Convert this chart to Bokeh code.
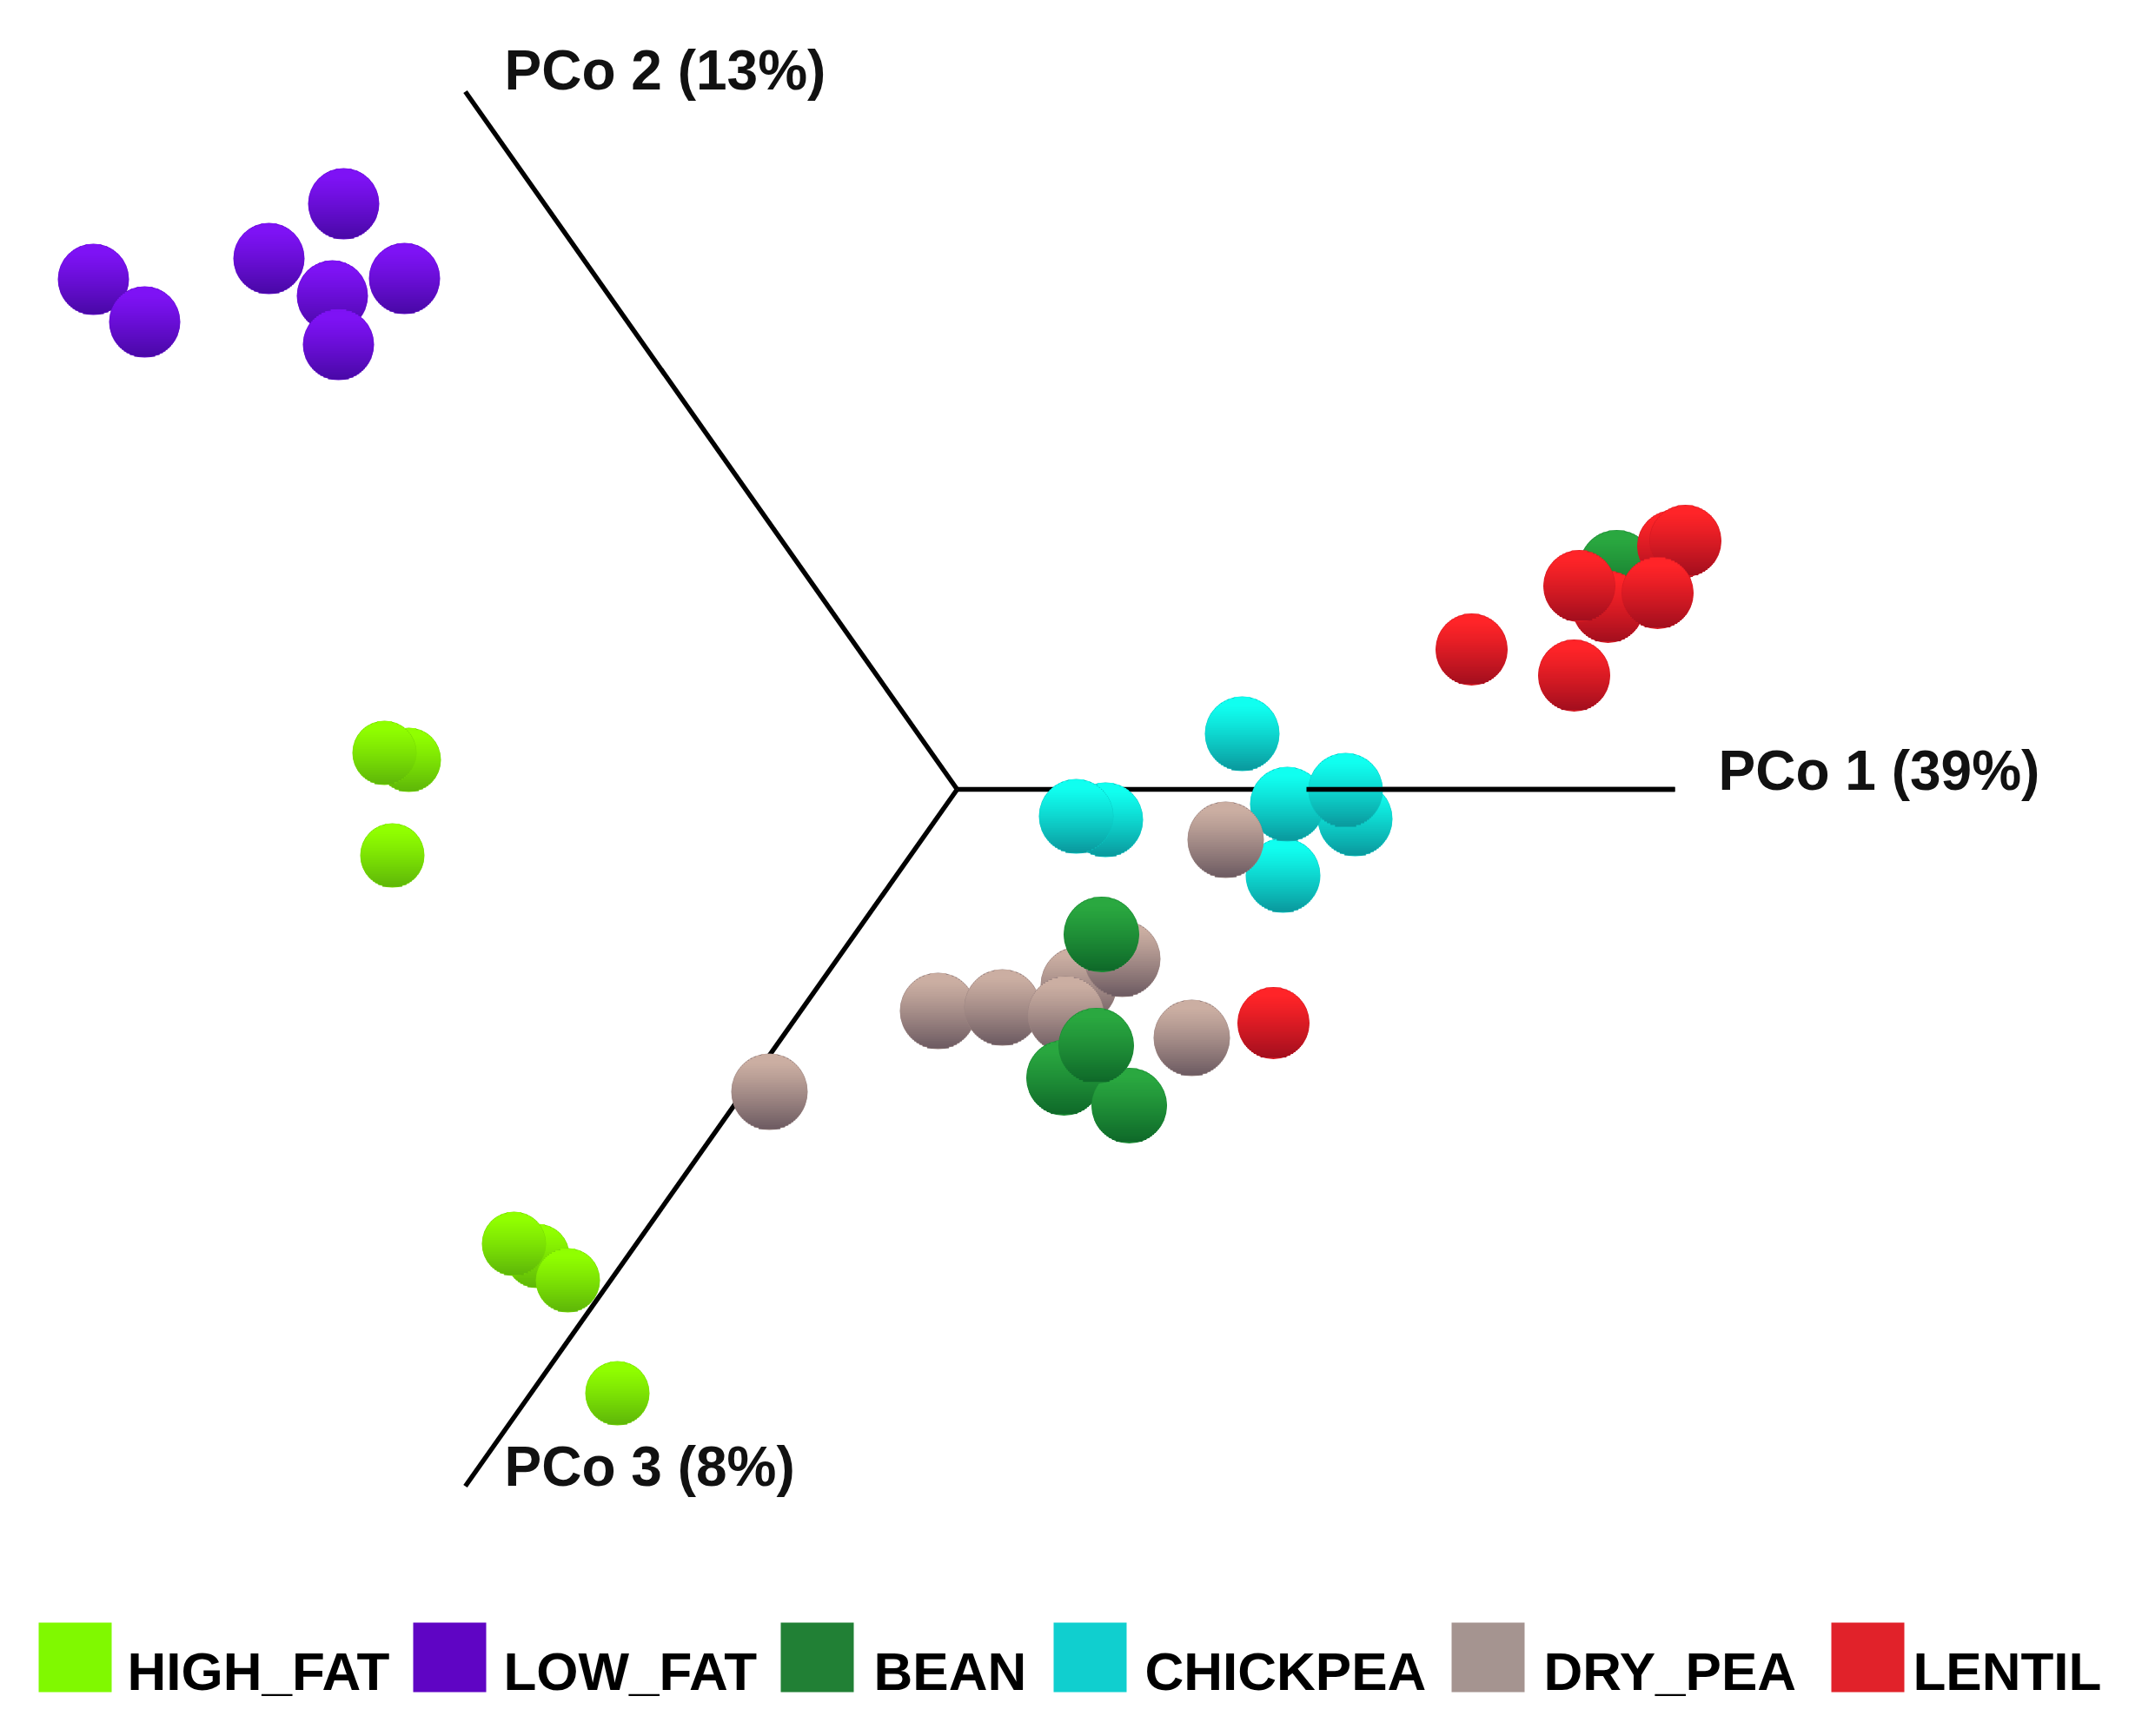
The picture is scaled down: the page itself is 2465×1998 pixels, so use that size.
from bokeh.plotting import figure
from bokeh.models import Range1d
from bokeh.core.properties import value
from bokeh.embed import file_html
from bokeh.resources import INLINE
import math

# ---------- data (ordination scores, listed back-to-front) ----------
chickpea_x = [1559, 1476, 1272, 1238, 1429, 1481, 1548]
chickpea_y = [942, 1007, 943, 939, 844, 925, 909]
dry_pea_x = [1241, 1291, 1079, 1153, 1226, 1371, 885, 1410]
dry_pea_y = [1133, 1103, 1163, 1159, 1167, 1194, 1256, 966]
bean_x = [1860, 1267, 1224, 1299, 1261]
bean_y = [653, 1075, 1240, 1272, 1203]
lentil_x = [1925, 1939, 1850, 1817, 1907, 1693, 1811, 1465]
lentil_y = [628, 622, 698, 674, 682, 747, 777, 1177]
high_fat_x = [470, 442, 451, 618, 591, 653, 710]
high_fat_y = [874, 866, 984, 1445, 1431, 1473, 1603]
low_fat_x = [107, 166, 309, 395, 465, 382, 389]
low_fat_y = [321, 370, 297, 234, 320, 340, 396]

axis_origin = (1101, 908)
axis_ends_x = [1927, 535, 535]
axis_ends_y = [908, 105, 1710]
axis_labels = ["PCo 1 (39%)", "PCo 2 (13%)", "PCo 3 (8%)"]
axis_label_x = [1977, 580, 580]
axis_label_y = [911, 105, 1712]
axis_over_start = 1503

legend_names = ["HIGH_FAT", "LOW_FAT", "BEAN", "CHICKPEA", "DRY_PEA", "LENTIL"]
legend_left = [44, 475, 898, 1212, 1670, 2107]
legend_text_x = [146, 579, 1005, 1317, 1776, 2201]
legend_colors = ["#80F900", "#5F05C4", "#218035", "#10CFCF", "#A59490", "#E1222A"]

# ---------- styles ----------
groups = [
    (chickpea_x, chickpea_y, 86, "#10FFF0", "#0A9A9E"),
    (dry_pea_x, dry_pea_y, 88, "#CBAEA2", "#6E5C62"),
    (bean_x, bean_y, 87, "#2AA840", "#0F6A2A"),
    (lentil_x, lentil_y, 83, "#FF2428", "#A50F1E"),
    (high_fat_x, high_fat_y, 74, "#90FF00", "#5FB808"),
    (low_fat_x, low_fat_y, 82, "#7E12F5", "#4A08A8"),
]
STRIP = 2.0


def mix(a, b, t):
    ca = [int(a[i:i + 2], 16) for i in (1, 3, 5)]
    cb = [int(b[i:i + 2], 16) for i in (1, 3, 5)]
    return "#%02x%02x%02x" % tuple(round(u + (v - u) * t) for u, v in zip(ca, cb))


p = figure(width=2449, height=1982, output_backend="svg", toolbar_location=None,
           x_range=Range1d(0, 2449), y_range=Range1d(1982, 0),
           min_border=0, outline_line_color=None, background_fill_color="white")
p.axis.visible = False
p.grid.visible = False

# axes under the points
for ex, ey in zip(axis_ends_x, axis_ends_y):
    p.line([axis_origin[0], ex], [axis_origin[1], ey], line_color="black", line_width=5.5)

# every sphere: a rim circle below, then thin horizontal slices for the vertical shading
for gx, gy, dia, light, dark in groups:
    R = dia / 2
    rim = mix(light, dark, 0.5)
    for cx, cy in zip(gx, gy):
        p.circle(x=[cx], y=[cy], radius=R, fill_color=rim, line_color=None)
        inner = R - 0.6
        n = int(2 * inner / STRIP)
        l, r, t, b, c = [], [], [], [], []
        for k in range(n):
            top = -inner + k * STRIP
            mid = top + STRIP / 2
            half = math.sqrt(max(inner ** 2 - mid ** 2, 0))
            v = k / (n - 1)
            shade = max((v - 0.1) / 0.9, 0) ** 1.15
            l.append(cx - half)
            r.append(cx + half)
            t.append(cy + top)
            b.append(cy + top + STRIP + 0.5)
            c.append(mix(light, dark, shade))
        p.quad(left=l, right=r, top=t, bottom=b, fill_color=c, line_color=None)

# part of PCo 1 axis that lies in front of the points
p.line([axis_over_start, axis_ends_x[0]], [axis_origin[1], axis_ends_y[0]],
       line_color="black", line_width=5.5)

p.text(x=axis_label_x, y=axis_label_y, text=axis_labels, text_color="#111111",
       text_font=value("Liberation Sans"), text_font_style="bold",
       text_font_size=value("64px"), text_baseline="alphabetic", text_align="left",
       y_offset=-25)

# legend
p.quad(left=legend_left, right=[v + 84 for v in legend_left],
       top=[1867] * 6, bottom=[1947] * 6, fill_color=legend_colors, line_color=None)
p.text(x=legend_text_x, y=[1948] * 6, text=legend_names, text_color="black",
       text_font=value("Liberation Sans"), text_font_style="bold",
       text_font_size=value("62px"), text_baseline="alphabetic", text_align="left",
       y_offset=-25)

open("out.html", "w").write(file_html(p, INLINE))
